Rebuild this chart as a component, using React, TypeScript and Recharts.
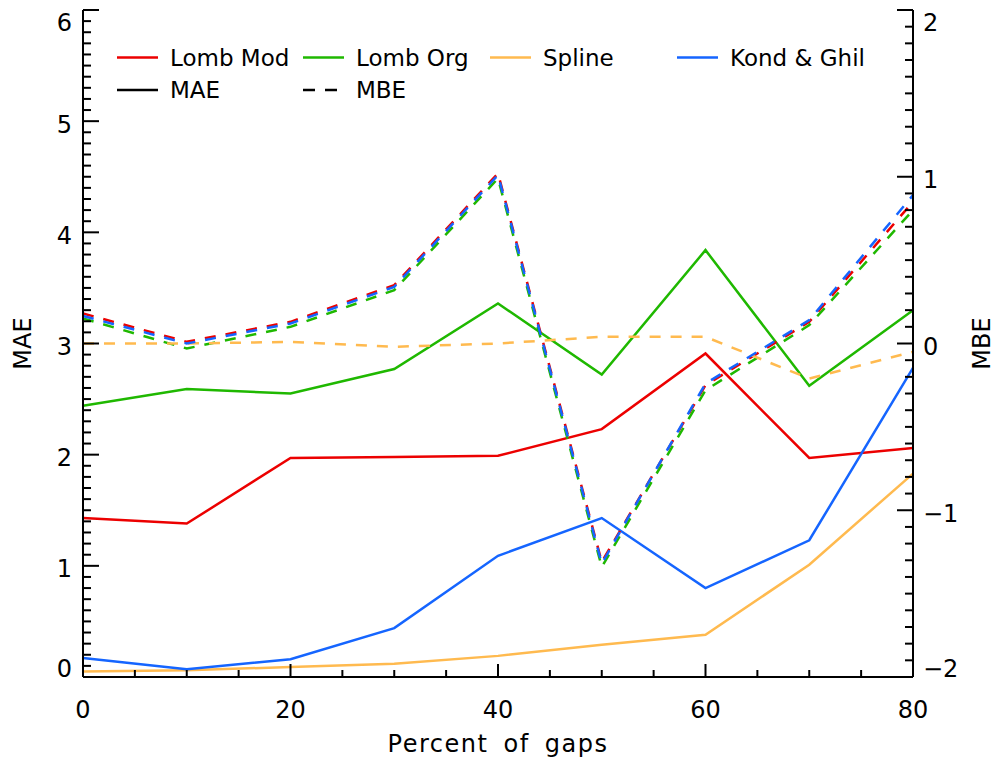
import React from "react";
import { LineChart, Line, XAxis, YAxis } from "recharts";

// percent of gaps (x)
const gaps = [0, 10, 20, 30, 40, 50, 60, 70, 80];

// MAE, left axis
const maeLombMod = [1.43, 1.38, 1.97, 1.98, 1.99, 2.23, 2.91, 1.97, 2.06];
const maeLombOrg = [2.44, 2.59, 2.55, 2.77, 3.36, 2.72, 3.84, 2.62, 3.3];
const maeSpline = [0.05, 0.06, 0.09, 0.12, 0.19, 0.29, 0.38, 1.01, 1.83];
const maeKondGhil = [0.17, 0.07, 0.16, 0.44, 1.09, 1.43, 0.8, 1.23, 2.78];

// MBE, right axis
const mbeLombMod = [0.18, 0.01, 0.13, 0.35, 1.02, -1.31, -0.25, 0.13, 0.85];
const mbeLombOrg = [0.15, -0.03, 0.1, 0.32, 0.99, -1.34, -0.28, 0.11, 0.8];
const mbeSpline = [0.0, 0.0, 0.01, -0.02, 0.0, 0.04, 0.04, -0.21, -0.05];
const mbeKondGhil = [0.165, 0.0, 0.12, 0.34, 1.01, -1.32, -0.24, 0.14, 0.89];

const methodNames = ["Lomb Mod", "Lomb Org", "Spline", "Kond & Ghil"];
const methodKeys = ["lombMod", "lombOrg", "spline", "kondGhil"];
const methodColors = ["#ec0000", "#1fb800", "#ffba4f", "#1565ff"];

const xTicks = [0, 5, 10, 15, 20, 25, 30, 35, 40, 45, 50, 55, 60, 65, 70, 75, 80];
const xMajorTicks = [0, 20, 40, 60, 80];
const maeDomain = [0, 6];
const mbeDomain = [-2, 2];
// minor ticks every 0.1
const maeTicks = Array.from({ length: 61 }, (_, i) => i / 10);
const mbeTicks = Array.from({ length: 41 }, (_, i) => (i - 20) / 10);

const maeSeries = [maeLombMod, maeLombOrg, maeSpline, maeKondGhil];
const mbeSeries = [mbeLombMod, mbeLombOrg, mbeSpline, mbeKondGhil];

const data = gaps.map((g, i) => {
  const row: Record<string, number> = { gap: g };
  methodKeys.forEach((k, j) => {
    row["mae_" + k] = maeSeries[j][i];
    row["mbe_" + k] = mbeSeries[j][i];
  });
  return row;
});

const W = 997;
const H = 761;
const FONT = "DejaVu Sans";
const TICK_GAP = 10;

const isWhole = (v: number) => Math.abs(v - Math.round(v)) < 1e-6;
const fmt = (v: number) => {
  const r = Math.round(v);
  return r < 0 ? "\u2212" + Math.abs(r) : String(r);
};

// IDL keeps end labels inside the axis range
const labelShift = (v: number, domain: number[]) => {
  if (Math.abs(v - domain[0]) < 1e-6) return 0;
  if (Math.abs(v - domain[1]) < 1e-6) return 21;
  return 11.5;
};

const LeftTick = (props: any) => {
  const { x, y, payload } = props;
  const v = payload.value;
  const ax = x + TICK_GAP;
  const major = isWhole(v);
  return (
    <g>
      <line x1={ax} x2={ax + (major ? 16 : 8)} y1={y} y2={y} stroke="#000" strokeWidth={2} />
      {major && (
        <text x={ax - 11} y={y + labelShift(v, maeDomain)} textAnchor="end" fontSize={24} fill="#000" fontFamily={FONT}>
          {fmt(v)}
        </text>
      )}
    </g>
  );
};

const RightTick = (props: any) => {
  const { x, y, payload } = props;
  const v = payload.value;
  const ax = x - TICK_GAP;
  const major = isWhole(v);
  return (
    <g>
      <line x1={ax} x2={ax - (major ? 16 : 8)} y1={y} y2={y} stroke="#000" strokeWidth={2} />
      {major && (
        <text x={ax + 10} y={y + labelShift(v, mbeDomain)} textAnchor="start" fontSize={24} fill="#000" fontFamily={FONT}>
          {fmt(v)}
        </text>
      )}
    </g>
  );
};

const BottomTick = (props: any) => {
  const { x, y, payload } = props;
  const v = payload.value;
  const ay = y - TICK_GAP;
  const major = xMajorTicks.includes(v);
  return (
    <g>
      <line x1={x} x2={x} y1={ay} y2={ay - (major ? 13 : 7)} stroke="#000" strokeWidth={2} />
      {major && (
        <text x={x} y={ay + 41} textAnchor="middle" fontSize={24} fill="#000" fontFamily={FONT}>
          {v}
        </text>
      )}
    </g>
  );
};

const TopTick = (props: any) => {
  const { x, y, payload } = props;
  const ay = y + TICK_GAP;
  const major = xMajorTicks.includes(payload.value);
  return <line x1={x} x2={x} y1={ay} y2={ay + (major ? 13 : 7)} stroke="#000" strokeWidth={2} />;
};

const legendColX = [117, 303, 490, 677];
const legendRowY = [57.5, 90];

const ChartLegend = () => (
  <svg width={W} height={120} style={{ position: "absolute", left: 0, top: 0, pointerEvents: "none" }}>
    {methodNames.map((name, i) => (
      <g key={name}>
        <line x1={legendColX[i]} x2={legendColX[i] + 41} y1={legendRowY[0]} y2={legendRowY[0]} stroke={methodColors[i]} strokeWidth={2.5} />
        <text x={legendColX[i] + 53} y={legendRowY[0] + 8} fontSize={23} fontFamily={FONT} fill="#000">
          {name}
        </text>
      </g>
    ))}
    <line x1={legendColX[0]} x2={legendColX[0] + 41} y1={legendRowY[1]} y2={legendRowY[1]} stroke="#000" strokeWidth={2.5} />
    <text x={legendColX[0] + 53} y={legendRowY[1] + 8} fontSize={23} fontFamily={FONT} fill="#000">
      MAE
    </text>
    <line x1={legendColX[1]} x2={legendColX[1] + 41} y1={legendRowY[1]} y2={legendRowY[1]} stroke="#000" strokeWidth={2.5} strokeDasharray="12 10" />
    <text x={legendColX[1] + 53} y={legendRowY[1] + 8} fontSize={23} fontFamily={FONT} fill="#000">
      MBE
    </text>
  </svg>
);

const axisLine = { stroke: "#000", strokeWidth: 2 };

const App: React.FC = () => {
  return (
    <div style={{ position: "absolute", left: 0, top: 0, width: W, height: H, background: "#fff", fontFamily: FONT }}>
      <LineChart width={W} height={H} data={data} margin={{ top: 10, right: 1, bottom: 0, left: 0 }}>
        <XAxis
          xAxisId="bottom"
          dataKey="gap"
          type="number"
          domain={[0, 80]}
          ticks={xTicks}
          interval={0}
          height={84}
          axisLine={axisLine}
          tickLine={false}
          tickSize={0}
          tickMargin={TICK_GAP}
          tick={BottomTick}
          label={{ value: "Percent of gaps", position: "insideBottom", offset: 9, fontSize: 24, fill: "#000", letterSpacing: 1.5, wordSpacing: 6 }}
        />
        <XAxis
          xAxisId="top"
          orientation="top"
          dataKey="gap"
          type="number"
          domain={[0, 80]}
          ticks={xTicks}
          interval={0}
          height={0}
          axisLine={axisLine}
          tickLine={false}
          tickSize={0}
          tickMargin={TICK_GAP}
          tick={TopTick}
        />
        <YAxis
          yAxisId="mae"
          type="number"
          domain={maeDomain}
          ticks={maeTicks}
          interval={0}
          width={83}
          axisLine={axisLine}
          tickLine={false}
          tickSize={0}
          tickMargin={TICK_GAP}
          tick={LeftTick}
          label={{ value: "MAE", angle: -90, position: "center", dx: -19.5, fontSize: 24, fill: "#000" }}
        />
        <YAxis
          yAxisId="mbe"
          orientation="right"
          type="number"
          domain={mbeDomain}
          ticks={mbeTicks}
          interval={0}
          width={83}
          axisLine={axisLine}
          tickLine={false}
          tickSize={0}
          tickMargin={TICK_GAP}
          tick={RightTick}
          label={{ value: "MBE", angle: -90, position: "center", dx: 27, fontSize: 24, fill: "#000" }}
        />
        {methodKeys.map((k, j) => (
          <Line
            key={"mae_" + k}
            xAxisId="bottom"
            yAxisId="mae"
            type="linear"
            dataKey={"mae_" + k}
            name={methodNames[j] + " MAE"}
            stroke={methodColors[j]}
            strokeWidth={2.5}
            dot={false}
            activeDot={false}
            isAnimationActive={false}
          />
        ))}
        {methodKeys.map((k, j) => (
          <Line
            key={"mbe_" + k}
            xAxisId="bottom"
            yAxisId="mbe"
            type="linear"
            dataKey={"mbe_" + k}
            name={methodNames[j] + " MBE"}
            stroke={methodColors[j]}
            strokeWidth={2.5}
            strokeDasharray="11 10"
            dot={false}
            activeDot={false}
            isAnimationActive={false}
          />
        ))}
      </LineChart>
      <ChartLegend />
    </div>
  );
};

export default App;
